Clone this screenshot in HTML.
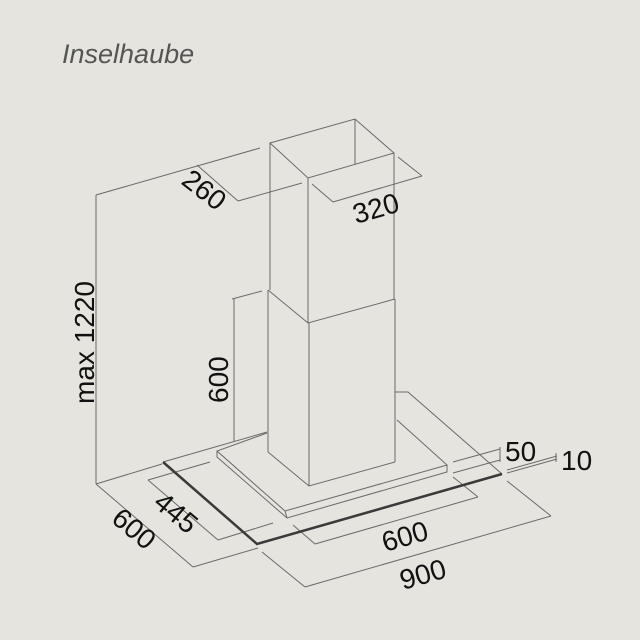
<!DOCTYPE html>
<html><head><meta charset="utf-8"><style>
html,body{margin:0;padding:0;background:#e5e4df;}
svg{display:block;}
text{font-family:"Liberation Sans",Arial,sans-serif;fill:#111;}
</style></head><body>
<svg width="640" height="640" viewBox="0 0 640 640" xmlns="http://www.w3.org/2000/svg">
<rect width="640" height="640" fill="#e5e4df"/>
<text x="62" y="63" font-size="27" font-style="italic" style="fill:#555">Inselhaube</text>

<g stroke="#6a6a6a" stroke-width="1" fill="none">
  <polygon points="270,143 355,119 394,153 308,178"/>
  <line x1="355" y1="119" x2="355" y2="164"/>
  <line x1="270" y1="143" x2="270" y2="290"/>
  <line x1="308" y1="178" x2="308" y2="323"/>
  <line x1="394" y1="153" x2="394" y2="299"/>
  <polyline points="268,290 308,323 395,299"/>
  <line x1="268" y1="290" x2="268" y2="452"/>
  <line x1="309" y1="323" x2="309" y2="486"/>
  <line x1="395" y1="299" x2="395" y2="462"/>
  <polyline points="268,452 309,486 395,462"/>
  <polyline points="267,433 217,451 285,511 447,465 397,420"/>
  <polyline points="217,451 217,457 287,518 447,472 447,465"/>
  <line x1="285" y1="511" x2="287" y2="518"/>
  <polyline points="267,432 163,462"/>
  <polyline points="395,392 408,392 502,474"/>
  <line x1="96" y1="195" x2="96" y2="484"/>
  <line x1="96" y1="195" x2="260" y2="148"/>
  <line x1="197" y1="165" x2="238" y2="201"/>
  <line x1="238" y1="201" x2="302" y2="183"/>
  <line x1="312" y1="184" x2="333" y2="202"/>
  <line x1="333" y1="202" x2="422" y2="176"/>
  <line x1="398" y1="157" x2="422" y2="176"/>
  <line x1="234" y1="299" x2="234" y2="442"/>
  <line x1="232" y1="299" x2="262" y2="291"/>
  <line x1="96" y1="484" x2="162" y2="464"/>
  <line x1="96" y1="484" x2="193" y2="567"/>
  <line x1="193" y1="567" x2="258" y2="548"/>
  <line x1="148" y1="480" x2="210" y2="462"/>
  <line x1="148" y1="480" x2="218" y2="540"/>
  <line x1="218" y1="540" x2="273" y2="523"/>
  <line x1="262" y1="552" x2="305" y2="587"/>
  <line x1="305" y1="587" x2="551" y2="516"/>
  <line x1="507" y1="481" x2="551" y2="516"/>
  <line x1="293" y1="525" x2="315" y2="544"/>
  <line x1="315" y1="544" x2="478" y2="497"/>
  <line x1="453" y1="477" x2="478" y2="497"/>
  <line x1="453" y1="462" x2="500" y2="449"/>
  <line x1="453" y1="473" x2="500" y2="460"/>
  <line x1="500" y1="447" x2="500" y2="462"/>
  <line x1="507" y1="470" x2="557" y2="456"/>
  <line x1="507" y1="473" x2="557" y2="459"/>
  <line x1="556" y1="453" x2="556" y2="462"/>
</g>
<polyline points="163,462 257,544 502,474" stroke="#3a3a3a" stroke-width="2.5" fill="none"/>

<g font-size="28">
  <text transform="translate(180,183) rotate(38)">260</text>
  <text transform="translate(356,224) rotate(-16)">320</text>
  <text transform="translate(94,404) rotate(-90)">max 1220</text>
  <text transform="translate(228,403) rotate(-90)">600</text>
  <text transform="translate(110,521) rotate(40)">600</text>
  <text transform="translate(152,505) rotate(40)">445</text>
  <text transform="translate(385,552) rotate(-16)">600</text>
  <text transform="translate(403,590) rotate(-16)">900</text>
  <text x="505" y="461">50</text>
  <text x="561" y="470">10</text>
</g>
</svg>
</body></html>
